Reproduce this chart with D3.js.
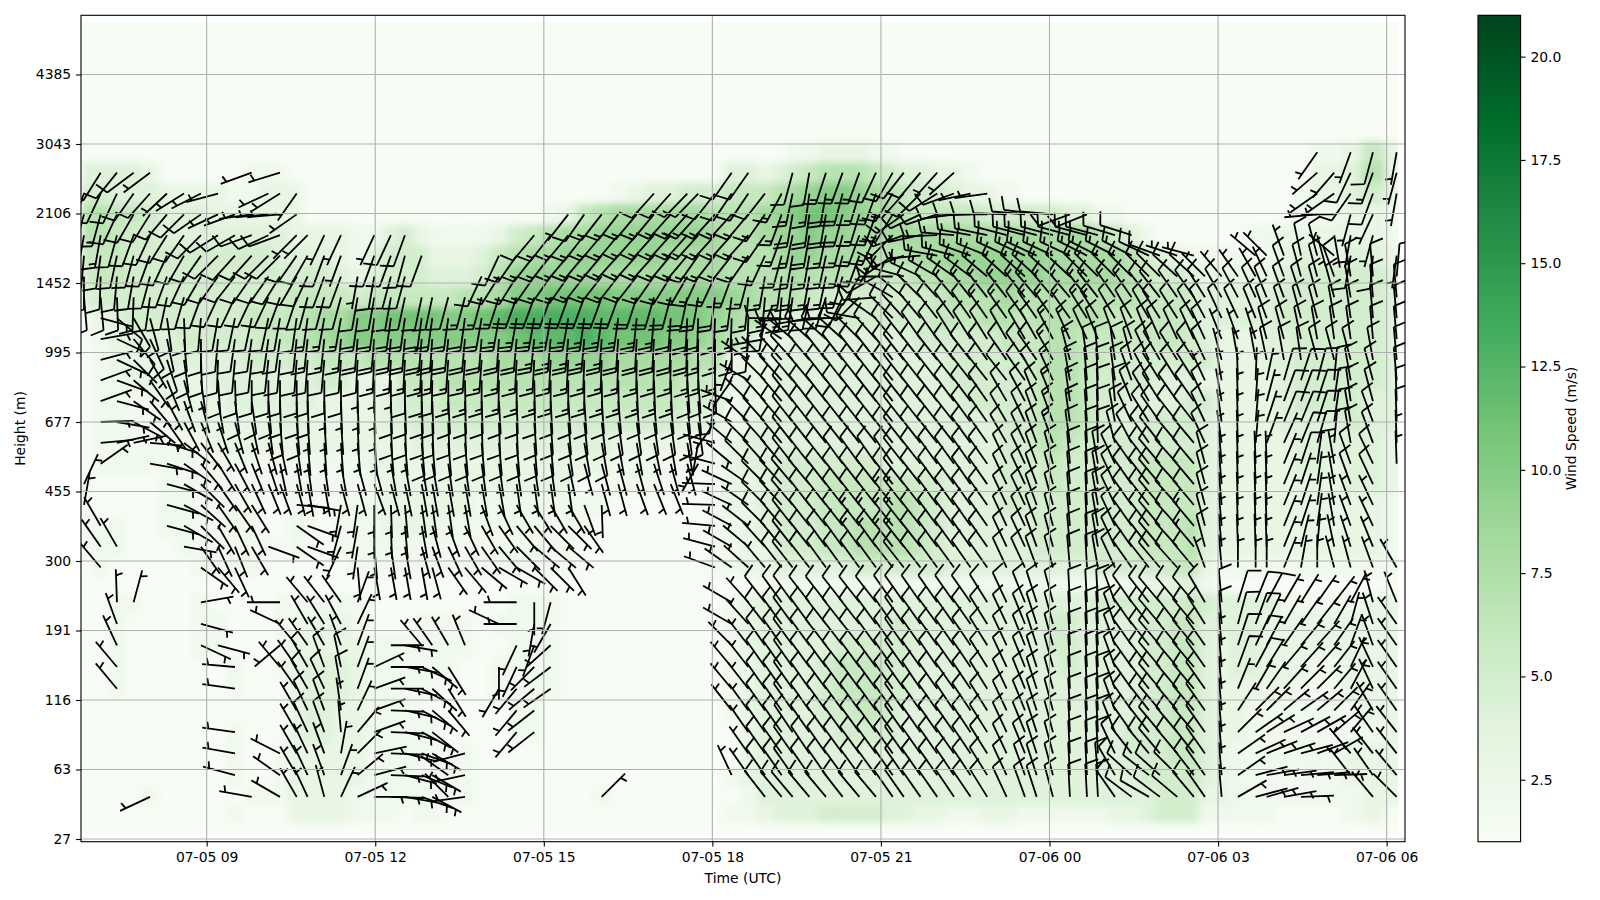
<!DOCTYPE html>
<html>
<head>
<meta charset="utf-8">
<script src="https://cdn.jsdelivr.net/npm/d3@7"></script>
<style>
body { margin: 0; background: #fff; }
text { font-family: "DejaVu Sans", sans-serif; }
</style>
</head>
<body>
<div class="canvas"></div>
<script>
// scan times, minutes after 07-05 00:00 UTC
const scanMinutes = [409,426.8,444.2,462,479.5,497.6,515.8,533.9,552.1, 570.2,588.1,605.9,618.3,636.1,647.8,665.6,683.4,701.2,719,736.7,751.7, 769.6,780.9,798,815.8,833.6,852.1,871,889.8,907.3, 926.1,943.2,961.8,979.5,999.2,1017.6,1035.5,1053.2,1064.9, 1082.8,1100.6,1118.4,1136.2,1154,1165.7,1183.6,1201.3,1219.1,1237,1254.7, 1272.6,1284.4,1302.2,1320.1,1338,1355.7,1373.5,1394.2,1413.8,1426.3, 1443.7,1461.8,1480,1491.7,1509.9,1527.7,1546.2,1557.9,1576.4,1594.2, 1606,1623.8,1641.2,1660.1,1671.9,1690.3,1708.5,1725.9,1744,1761.6,1785.4,1810.7]

const timeTicks = [540,720,900,1080,1260,1440,1620,1800]
const timeLabels = ["07-05 09","07-05 12","07-05 15","07-05 18","07-05 21","07-06 00","07-06 03","07-06 06"]
const heightLabels = [27,63,116,191,300,455,677,995,1452,2106,3043,4385]
const colorTicks = [2.5,5,7.5,10,12.5,15,17.5,20]
const greens = ["#f7fcf5","#e5f5e0","#c7e9c0","#a1d99b","#74c476","#41ab5d","#238b45","#006d2c","#00441b"]

// range gate of each row, top to bottom
const rowGates = [158.1,153.4,148.6,143.8,139,134.3,129.5,124.7,119.9,115.1,110.3,105.6,100.8,96,91.2,86.4,81.7,76.9,72.1,67.3,62.5,58.6,54.5,49.5,44.6,39.6,34.6,29.6,24.6,19.7,14.7,9.7,5.5]

// wind direction (deg, where it blows from), 0 = no barb
const d158 = [0,0,0,0,0,0,0,0,0, 0,0,0,0,0,0,0,0,0,0,0,0, 0,0,0,0,0,0,0,0,0, 0,0,0,0,0,0,0,0,0, 0,0,0,0,0,0,0,0,0,0,0, 0,0,0,0,0,0,0,0,0,0, 0,0,0,0,0,0,0,0,0,0, 0,0,0,0,0,0,0,215,0,200,195,190]
const d153 = [0,212,219,233,233,0,0,0,0, 0,250,0,253,0,0,0,0,0,0,0,0, 0,0,0,0,0,0,0,0,0, 0,0,0,0,0,0,0,0,0, 0,215,215,0,0,195,190,198,200,200,205, 210,218,220,222,228,0,0,0,0,0, 0,0,0,0,0,0,0,0,0,0, 0,0,0,0,0,0,0,229,221,205,200,195]
const d149 = [200,205,205,215,222,227,238,243,255, 0,0,245,238,215,0,0,0,0,0,0,0, 0,0,0,0,0,0,0,0,0, 0,0,0,0,0,222,222,224,224, 218,214,214,218,208,192,188,190,195,197,200, 212,222,225,238,250,258,262,0,0,0, 0,0,0,0,0,0,0,0,0,0, 0,0,0,0,0,0,0,235,235,215,200,190]
const d144 = [195,195,205,210,212,220,225,235,245, 250,262,265,265,235,0,0,0,0,0,0,0, 0,0,0,0,0,0,0,0,0, 218,215,218,218,220,220,222,222,222, 222,222,220,215,200,190,188,190,195,197,200, 212,235,245,252,262,268,270,272,275,278, 275,250,248,0,0,0,0,0,0,0, 0,0,0,0,0,0,0,265,270,195,205,0]
const d139 = [190,190,195,200,205,212,215,225,238, 240,250,245,250,225,225,205,205,0,205,205,200, 0,0,0,0,0,0,0,220,218, 220,218,220,220,222,222,222,222,222, 222,222,222,215,200,192,190,192,195,200,205, 225,250,258,268,275,280,282,285,285,285, 285,285,285,285,287,288,0,0,0,0, 0,0,0,0,0,0,0,165,170,190,195,0]
const d134 = [185,188,192,195,200,205,210,215,225, 222,222,225,225,215,210,200,200,0,200,200,195, 200,0,0,0,0,205,215,218,218, 220,220,220,222,222,222,220,220,215, 218,218,215,205,195,190,190,192,195,200,210, 235,250,265,280,285,290,292,295,295,295, 295,295,297,297,297,297,295,290,288,285, 0,0,0,310,315,340,348,345,310,190,185,188]
const d130 = [180,182,185,190,195,200,205,210,215, 218,215,215,212,210,205,200,200,190,190,195,195, 0,0,0,0,205,212,212,215,215, 215,218,218,218,218,215,212,210,205, 205,200,195,190,188,188,190,192,197,210,240, 270,285,295,300,305,307,310,312,312,312, 312,313,315,315,315,315,315,315,312,312, 315,320,325,330,335,340,345,345,340,350,355,5]
const d125 = [175,175,178,182,188,192,196,200,205, 205,205,205,200,198,195,195,195,190,190,190,192, 192,192,195,195,195,198,200,200,200, 200,200,200,200,198,196,195,192,190, 188,188,186,185,185,188,192,198,205,225,265, 300,310,315,318,320,322,322,322,322,320, 320,320,322,322,325,325,322,322,325,325, 328,330,332,335,338,340,342,345,345,350,355,355]
const d120 = [0,105,130,150,165,172,178,185,190, 192,192,192,190,188,188,190,190,188,188,188,188, 188,188,188,188,190,190,190,190,190, 190,188,188,188,186,185,184,183,182, 182,182,182,190,270,265,260,265,270,280,305, 315,318,320,322,324,325,325,325,325,325, 325,325,328,328,330,330,330,328,328,330, 332,335,335,338,340,342,345,345,350,352,355,355]
const d115 = [0,80,115,140,155,168,175,180,185, 188,188,188,188,186,186,186,185,185,185,185,185, 185,184,186,185,185,184,185,186,185, 185,185,184,184,183,183,182,182,181, 180,180,185,260,305,310,312,312,312,315,318, 320,322,325,325,328,328,328,330,330,330, 332,335,335,338,340,340,338,336,335,335, 335,338,340,342,345,345,348,350,352,352,355,355]
const d110 = [0,75,115,135,150,162,172,178,182, 185,186,186,185,184,184,185,184,183,183,183,183, 183,183,184,184,184,183,183,183,183, 183,182,182,182,181,181,181,180,180, 180,200,305,315,318,318,320,322,322,322,322, 322,322,322,322,322,322,325,325,325,325, 330,345,352,355,352,345,335,330,328,328, 335,345,350,350,348,350,352,345,345,345,350,355]
const d106 = [0,70,110,130,145,158,165,172,176, 178,180,180,180,180,180,180,180,180,180,180,180, 180,181,180,179,180,181,180,179,180, 180,180,179,179,178,178,178,176,176, 178,215,300,315,318,320,320,322,322,322,322, 322,322,322,322,322,322,322,322,325,330, 335,350,355,357,352,340,332,328,328,328, 335,350,358,2,12,16,18,15,5,350,345,355]
const d101 = [0,70,105,125,140,152,160,165,170, 172,172,175,178,178,178,178,178,178,178,178,178, 178,178,177,178,178,177,178,178,177, 176,176,176,175,175,175,175,175,175, 190,290,315,318,320,322,322,322,322,322,322, 322,322,322,322,323,323,325,330,332,338, 338,352,356,358,355,338,330,328,325,325, 335,350,358,4,15,20,20,18,8,352,345,358]
const d96 = [0,88,100,118,130,145,152,158,162, 165,168,172,175,175,176,176,176,178,178,178,178, 178,178,178,178,178,178,178,176,176, 175,174,173,172,172,172,172,172,172, 215,300,315,318,320,322,322,322,322,322,322, 322,322,322,322,322,324,325,330,335,340, 340,352,356,358,350,335,328,325,322,322, 335,352,358,5,18,22,22,18,8,350,340,358]
const d91 = [0,85,78,78,95,108,128,142,150, 158,162,165,168,172,175,176,176,175,175,175,175, 175,175,175,175,175,175,175,175,175, 172,170,170,170,170,168,170,170,190, 285,310,315,318,320,322,322,322,322,322,322, 322,322,322,322,322,324,325,330,335,340, 340,352,357,358,345,332,325,322,320,320, 335,352,358,5,20,24,22,16,5,350,340,358]
const d86 = [0,55,0,0,100,108,125,140,148, 152,158,162,168,170,172,172,170,165,165,170,170, 170,170,172,172,172,172,172,172,172, 168,165,165,165,165,162,165,165,210, 285,310,315,318,320,322,322,322,324,324,325, 325,322,322,324,324,325,325,335,335,340, 345,355,357,350,335,325,322,320,318,320, 345,355,358,358,358,22,18,8,350,340,335,358]
const d82 = [25,0,0,0,0,105,120,135,145, 150,155,158,160,165,170,170,165,165,160,165,168, 170,170,170,170,170,170,172,172,172, 172,0,165,165,160,158,158,0,0, 272,295,305,315,318,320,320,322,322,322,322, 322,322,322,324,324,325,325,335,335,340, 345,355,357,350,335,325,322,320,318,320, 345,355,358,358,358,22,18,8,350,340,335,0]
const d77 = [10,0,0,0,0,105,118,132,145, 145,148,0,0,95,100,0,190,188,180,178,175, 172,172,172,170,160,155,150,148,150, 150,160,178,0,0,0,0,0,0, 272,295,305,315,318,320,322,322,322,322,322, 322,322,322,324,324,325,325,335,335,340, 345,355,357,350,335,325,322,320,318,320, 345,355,358,358,358,22,18,8,350,340,335,0]
const d72 = [0,330,0,0,0,105,120,135,150, 155,155,0,0,125,110,0,195,190,180,178,175, 170,165,160,155,150,145,140,140,135, 135,145,0,0,0,0,0,0,0, 275,298,308,315,320,322,322,322,322,322,322, 322,322,322,324,324,325,325,335,335,340, 345,355,357,350,335,325,322,320,318,320, 345,355,358,358,358,22,18,8,350,340,335,0]
const d67 = [0,325,330,0,0,0,100,145,155, 158,150,110,0,125,110,0,205,188,175,172,170, 165,160,155,150,145,140,135,130,130, 130,0,0,0,0,0,0,0,0, 285,300,310,318,320,322,322,324,324,324,324, 322,322,322,324,324,325,325,335,335,340, 345,355,357,350,335,325,322,320,318,320, 345,355,358,358,358,22,14,5,348,342,338,0]
const d63 = [0,320,0,0,0,0,0,125,140, 155,0,0,0,0,0,0,0,175,170,170,170, 170,165,145,140,130,120,120,135,135, 148,0,0,0,0,0,0,0,0, 290,305,312,320,322,322,322,324,324,324,324, 322,322,322,324,324,325,325,335,335,340, 345,355,357,350,335,325,322,320,318,320, 340,355,360,360,360,22,10,360,345,345,340,330]
const d55 = [0,0,358,15,0,0,0,80,0, 0,0,0,270,0,320,322,325,20,0,0,0, 0,0,0,0,0,0,270,180,195, 0,0,0,0,0,0,0,0,0, 0,300,318,322,324,324,322,322,322,322,322, 325,325,325,325,325,325,328,335,338,342, 345,357,357,357,340,325,322,320,320,320, 330,355,17,22,28,30,32,35,38,28,345,338]
const d50 = [0,0,340,0,0,0,0,105,0, 0,0,0,295,0,330,328,332,25,0,0,0, 0,0,0,0,0,295,270,190,210, 0,0,0,0,0,0,0,0,0, 0,300,318,322,324,324,324,322,322,322,324, 325,325,325,324,325,325,328,335,338,342, 345,357,357,357,340,325,322,320,322,320, 328,355,15,20,25,30,35,38,30,15,342,325]
const d45 = [0,0,335,0,0,0,0,115,105, 0,0,0,230,320,325,330,340,20,0,90,100, 320,325,330,338,0,0,205,200,228, 0,0,0,0,0,0,0,0,0, 0,315,322,325,325,324,324,322,322,322,324, 325,325,325,325,325,326,328,335,338,342, 345,357,357,357,340,325,322,320,320,320, 325,355,18,25,28,35,40,42,35,20,340,325]
const d40 = [0,0,320,0,0,0,0,0,0, 275,0,0,320,325,330,340,348,20,65,90,100, 115,130,148,0,0,180,205,225,233, 0,0,0,0,0,0,0,0,0, 0,320,322,325,325,325,324,324,322,324,324, 325,325,325,326,325,326,328,335,338,342, 345,357,357,357,340,325,322,320,320,320, 325,355,20,28,32,40,42,42,38,25,335,325]
const d35 = [0,0,320,0,0,0,0,0,0, 278,0,0,0,325,330,335,350,20,70,90,102, 118,132,148,0,0,210,220,230,235, 0,0,0,0,0,0,0,0,0, 0,320,322,325,325,325,325,324,324,324,324, 325,325,326,325,325,326,328,335,338,342, 345,357,357,357,340,325,322,320,320,320, 325,355,22,30,35,42,45,45,40,28,335,325]
const d30 = [0,0,0,0,0,0,0,0,0, 0,0,0,0,330,335,340,352,25,70,92,103, 118,130,140,0,0,0,220,232,0, 0,0,0,0,0,0,0,0,0, 0,322,324,325,325,325,325,324,324,324,324, 325,325,325,325,326,326,328,335,338,342, 345,357,357,357,340,325,322,320,320,320, 325,355,33,45,45,50,55,50,45,35,330,325]
const d25 = [0,0,0,0,0,0,0,0,0, 278,0,0,0,330,335,340,355,40,70,92,104, 118,128,0,0,0,0,220,232,0, 0,0,0,0,0,0,0,0,0, 0,0,325,325,325,326,325,324,324,324,324, 325,325,325,325,325,326,328,335,338,342, 345,357,357,357,338,325,322,320,320,320, 325,355,45,55,58,65,62,60,50,40,325,322]
const d20 = [0,0,0,0,0,0,0,0,0, 280,0,0,297,330,335,340,10,45,78,92,104, 110,120,0,255,0,0,0,0,0, 0,0,0,0,0,0,0,0,0, 0,0,325,325,325,325,326,325,324,324,324, 325,325,325,325,325,326,328,335,338,342, 345,357,357,357,335,322,320,320,320,322, 325,355,55,65,68,72,75,70,60,320,322,322]
const d15 = [0,0,0,0,0,0,0,0,0, 285,0,0,305,330,335,340,20,50,75,92,105, 112,120,305,258,0,0,0,0,0, 0,0,0,0,0,0,0,0,0, 0,335,325,325,325,325,325,325,324,324,324, 325,325,325,325,326,326,328,335,340,342, 345,357,357,355,330,312,308,312,315,322, 325,355,55,75,80,82,85,85,88,322,325,320]
const d10 = [0,0,0,0,245,0,0,0,0, 0,280,0,300,330,335,345,25,65,90,92,100, 110,118,315,262,0,0,0,0,0, 0,0,45,0,0,0,0,0,0, 0,0,0,322,320,320,320,320,322,320,320, 325,325,325,325,326,326,328,335,340,342, 345,357,357,357,325,307,300,307,310,320, 325,355,60,75,74,80,88,0,0,0,320,315]

// wind speed (m/s) on the same grid
const s158 = [1,1,1,1,1,1,1,1,1, 1,1,1,1,1,1,1,1,1,1,1,1, 1,1,1,1,1,1,1,1,1, 1,1,1,1,1,1,1,1,1, 1,1,1,1,1,2,2,3,3,3,2, 2,1,1,1,1,1,1,1,1,1, 1,1,1,1,1,1,1,1,1,1, 1,1,1,1,1,1,1,2,2,3,6,3]
const s153 = [4,4,4,4,3,1,1,1,1, 1,2,2,2,1,1,1,1,1,1,1,1, 1,1,1,1,1,1,1,1,1, 1,1,1,1,1,1,1,1,1, 1,4,4,3,4,5,6,7,7,7,6, 5,4,4,3,3,2,1,1,1,1, 1,1,1,1,1,1,1,1,1,1, 1,1,1,1,1,1,1,3,3,4,7,3]
const s149 = [5,5,4,4,4,3,3,3,3, 2,2,3,3,3,1,1,1,1,1,1,1, 1,1,1,1,1,1,1,1,1, 1,1,1,2,3,4,4,5,5, 5,6,6,6,7,8,9,10,10,9,8, 7,6,5,5,4,3,3,2,1,1, 1,1,1,1,1,1,1,1,1,1, 1,1,1,1,1,1,2,3,3,4,5,3]
const s144 = [7,7,6,6,5,4,4,4,3, 3,3,3,3,3,1,1,1,1,1,1,1, 1,1,1,1,1,1,1,1,2, 3,6,7,8,8,8,8,8,8, 7,7,7,8,9,10,11,11,10,9,8, 8,7,6,6,6,6,5,5,5,5, 5,4,4,2,2,1,1,1,1,1, 1,1,1,1,1,1,2,2,2,3,3,2]
const s139 = [7,7,6,5,5,4,4,4,4, 4,4,4,4,3,3,3,3,2,2,4,5, 3,2,2,2,2,3,5,6,7, 8,8,9,9,9,9,9,9,9, 8,7,7,8,9,9,10,9,9,8,8, 8,8,8,8,8,8,8,8,8,8, 8,8,8,7,6,4,2,1,1,1, 1,1,1,2,2,3,3,3,3,3,3,2]
const s134 = [6,6,6,5,5,5,5,5,5, 5,5,5,4,4,4,4,3,2,4,5,5, 5,3,3,3,4,6,7,8,8, 9,9,9,9,9,9,8,8,8, 8,7,7,7,8,9,9,8,8,8,7, 7,7,8,8,9,9,9,9,9,9, 8,8,8,8,8,7,5,4,3,2, 2,2,2,2,2,3,4,4,3,4,4,3]
const s130 = [5,6,6,5,5,5,5,5,5, 5,5,5,5,5,5,5,4,3,4,5,5, 5,4,4,4,5,7,9,9,9, 9,9,8,8,8,8,8,8,8, 8,7,7,7,7,8,7,7,7,6,6, 6,6,7,7,8,8,9,9,9,9, 8,8,8,8,8,7,6,5,5,4, 3,3,3,3,3,4,5,5,5,5,5,4]
const s125 = [4,5,5,5,5,5,5,5,5, 5,5,5,5,6,6,6,6,5,6,6,6, 6,6,6,7,7,8,10,10,11, 11,11,11,10,10,10,10,10,10, 10,9,8,7,7,7,6,5,5,5,5, 5,5,5,6,7,7,7,8,7,7, 7,7,7,7,7,7,6,6,6,5, 4,4,4,4,4,5,5,5,5,5,5,4]
const s120 = [2,3,4,5,5,5,5,5,5, 5,6,6,6,6,7,8,8,10,10,11,11, 11,11,10,10,11,12,13,13,13, 13,13,12,12,12,12,11,11,10, 9,8,7,6,4,4,4,4,5,5,5, 5,5,5,6,6,6,7,7,6,7, 7,7,7,7,6,6,6,6,6,5, 4,4,4,4,4,5,5,5,5,5,5,4]
const s115 = [1,2,3,4,4,4,5,5,5, 5,5,6,6,6,7,8,9,10,10,10,10, 10,10,10,10,10,10,11,12,12, 12,13,12,11,11,11,10,10,9, 8,7,5,3,3,4,4,4,4,4,4, 4,4,5,5,5,5,5,6,6,6, 7,7,6,6,6,6,6,6,6,5, 4,3,3,3,4,4,5,5,5,5,5,4]
const s110 = [1,2,3,3,3,4,4,4,4, 4,5,5,5,5,5,6,6,6,7,7,7, 7,7,7,7,7,8,8,8,9, 9,9,9,8,8,8,8,8,7, 7,3,3,3,4,4,4,4,4,4,4, 4,4,4,4,5,5,5,5,5,6, 7,7,6,6,5,5,5,5,5,5, 5,3,3,3,4,4,5,5,5,5,5,4]
const s106 = [1,2,2,3,3,3,3,3,4, 4,4,4,4,4,4,5,5,3,3,3,6, 6,6,7,7,7,7,7,7,7, 7,7,7,7,7,7,7,6,6, 5,3,3,3,4,4,4,4,4,4,4, 4,4,4,4,5,5,5,5,5,6, 7,7,6,5,5,5,5,4,4,4, 3,3,3,3,3,4,5,5,5,5,5,4]
const s101 = [1,2,2,2,2,3,3,3,3, 4,4,4,4,4,4,3,3,3,3,4,5, 5,5,6,6,6,6,6,6,6, 6,6,6,6,6,6,6,5,5, 4,2,3,3,4,4,4,4,4,4,4, 4,4,4,4,4,5,5,5,5,6, 7,7,6,5,5,4,4,4,4,5, 5,3,3,3,3,4,5,5,5,5,4,4]
const s96 = [1,2,2,2,2,2,3,3,3, 3,3,3,4,4,3,3,3,3,3,4,4, 5,5,5,5,5,5,5,5,5, 5,5,5,5,5,5,5,4,4, 3,2,3,4,4,4,4,4,4,4,4, 4,4,4,4,4,4,4,5,5,6, 7,7,6,5,4,4,5,5,5,5, 4,3,3,3,3,4,4,4,4,5,4,4]
const s91 = [1,2,2,2,2,2,2,2,3, 3,3,3,3,3,3,3,3,3,3,3,3, 4,4,4,4,4,4,4,4,4, 4,4,4,3,3,3,3,3,2, 2,3,4,4,4,4,4,4,4,4,4, 4,4,4,4,4,4,4,5,5,6, 7,6,5,5,5,5,5,5,5,5, 4,3,3,3,3,3,4,4,4,4,4,3]
const s86 = [1,2,2,2,2,2,2,2,2, 2,2,2,2,2,2,2,2,2,3,3,3, 3,3,3,3,3,3,3,3,3, 3,3,3,2,2,2,2,2,2, 2,3,4,4,5,5,5,5,5,5,5, 4,4,4,4,4,4,4,5,5,5, 6,5,5,5,5,5,6,6,6,6, 4,3,3,3,3,3,4,4,3,4,4,3]
const s82 = [2,1,1,1,1,2,2,2,2, 2,2,2,2,2,2,2,2,2,2,3,3, 3,3,3,3,3,3,3,3,3, 3,1,2,2,2,2,2,1,1, 2,3,3,4,5,5,5,6,6,6,6, 6,6,5,5,4,4,4,5,5,5, 6,5,5,5,5,5,6,6,6,6, 4,3,3,3,3,3,3,3,3,4,4,3]
const s77 = [2,1,1,1,1,2,2,2,2, 2,2,1,1,2,2,1,2,2,2,3,3, 3,3,3,3,2,2,2,2,2, 2,2,2,1,1,1,1,1,1, 2,3,3,4,5,5,5,6,6,6,6, 7,7,6,5,4,4,4,5,5,5, 5,5,5,5,5,5,6,6,6,6, 4,3,3,3,3,3,3,3,3,3,3,2]
const s72 = [2,2,2,1,1,2,2,2,2, 2,2,1,1,2,2,1,2,2,2,3,3, 3,3,2,2,2,2,2,2,2, 2,2,1,1,1,1,1,1,1, 2,2,3,4,5,5,5,6,6,7,7, 7,7,6,5,4,4,4,4,4,5, 5,5,5,5,5,5,6,6,6,7, 4,3,3,3,3,3,3,3,3,3,3,2]
const s67 = [2,2,2,1,1,1,2,2,2, 2,2,2,1,2,2,1,2,2,2,2,2, 2,2,2,2,2,2,2,2,2, 2,1,1,1,1,1,1,1,1, 2,2,3,3,5,5,5,6,6,7,7, 7,7,6,5,4,4,4,4,4,5, 5,5,5,5,5,5,6,6,6,7, 4,3,3,3,3,3,3,3,3,3,3,2]
const s63 = [1,2,1,1,1,1,1,2,2, 2,2,1,1,1,1,1,1,2,2,2,2, 2,2,2,2,2,2,2,2,2, 2,1,1,1,1,1,1,1,1, 2,2,3,3,4,4,4,4,4,5,5, 5,5,5,5,4,4,4,4,4,4, 4,4,4,5,5,5,5,5,6,6, 3,2,2,2,2,2,2,2,2,2,2,2]
const sGap = [1,1,1,1,1,1,1,1,1, 1,1,1,1,1,1,1,1,1,1,1,1, 1,1,1,1,1,1,1,1,1, 1,1,1,1,1,1,1,1,1, 1,1,1,2,2,2,2,2,2,2,2, 2,2,2,2,2,2,2,2,2,2, 2,2,2,2,2,2,3,3,4,4, 2,1,1,1,1,1,1,1,1,1,1,1]
const s55 = [1,1,2,2,1,1,1,2,1, 1,1,1,2,2,2,2,2,2,1,1,1, 1,1,1,1,1,1,2,2,2, 1,1,1,1,1,1,1,1,1, 1,2,3,4,4,4,4,4,4,4,4, 4,4,4,4,4,4,4,4,4,4, 4,4,4,5,5,5,5,5,5,6, 5,4,4,4,4,2,2,2,2,2,3,3]
const s50 = [1,1,2,1,1,1,1,2,2, 1,1,1,2,2,3,3,3,2,1,1,1, 2,2,2,2,1,2,2,2,2, 1,1,1,1,1,1,1,1,1, 1,2,3,4,4,4,4,4,4,4,4, 5,5,4,4,4,4,4,4,4,4, 5,5,4,4,4,4,5,5,6,6, 4,4,4,4,3,3,3,3,3,3,3,3]
const s45 = [1,1,2,1,1,1,1,2,2, 1,1,1,2,3,3,3,3,3,2,2,2, 2,2,2,2,1,1,2,2,2, 1,1,1,1,1,1,1,1,1, 1,2,3,4,4,4,4,4,5,5,5, 5,5,4,4,4,4,4,4,4,4, 5,5,4,4,4,4,5,5,6,6, 4,3,4,4,3,3,3,3,3,3,3,3]
const s40 = [1,1,2,1,1,1,1,1,1, 2,1,1,2,3,4,4,4,3,2,2,2, 2,2,2,1,1,2,2,2,2, 1,1,1,1,1,1,1,1,1, 1,2,3,4,4,4,4,5,6,6,6, 5,5,4,4,4,4,4,4,4,4, 4,5,4,4,4,4,5,5,6,6, 4,3,4,4,3,3,3,2,2,3,3,3]
const s35 = [1,1,2,1,1,1,1,1,1, 2,1,1,1,3,4,4,4,3,2,2,2, 2,2,1,1,1,2,2,2,2, 1,1,1,1,1,1,1,1,1, 1,2,3,4,4,4,4,5,6,6,6, 5,5,4,4,4,4,4,4,4,4, 4,4,4,4,4,4,5,5,6,6, 4,3,3,3,3,3,2,2,2,3,3,3]
const s30 = [1,1,1,1,1,1,1,1,1, 1,1,1,1,3,4,4,3,3,2,2,2, 2,1,1,1,1,1,2,2,1, 1,1,1,1,1,1,1,1,1, 1,2,3,4,4,4,4,5,5,6,6, 5,4,4,4,4,4,4,4,4,4, 4,4,4,4,4,4,5,5,6,6, 4,3,3,2,2,2,2,2,2,2,3,3]
const s25 = [1,1,1,1,1,1,1,1,1, 2,1,1,1,3,4,4,3,3,2,2,2, 2,2,1,1,1,1,2,2,1, 1,1,1,1,1,1,1,1,1, 1,1,3,4,4,4,4,4,5,5,5, 5,4,4,4,4,4,4,4,4,4, 4,4,4,4,4,5,5,5,6,6, 4,3,3,2,2,2,2,2,2,2,2,3]
const s20 = [1,1,1,1,1,1,1,1,1, 2,1,1,2,3,3,3,3,3,2,2,2, 2,2,2,2,1,1,1,1,1, 1,1,1,1,1,1,1,1,1, 1,1,3,4,4,4,4,4,4,4,4, 4,4,4,4,4,4,4,4,4,4, 4,4,4,4,4,5,5,5,6,6, 4,3,2,2,2,2,2,2,2,3,3,3]
const s15 = [1,1,1,1,1,1,1,1,1, 2,1,1,2,3,3,3,3,3,2,2,2, 2,2,2,2,1,1,1,1,1, 1,1,1,1,1,1,1,1,1, 1,2,3,4,4,4,4,4,4,4,4, 4,4,4,4,4,4,4,4,4,4, 4,4,4,4,4,4,5,5,5,6, 4,3,2,2,2,2,2,2,2,3,3,3]
const s10 = [1,1,1,1,2,1,1,1,1, 1,2,2,2,3,3,3,3,2,2,2,2, 2,2,2,2,1,1,1,1,1, 1,1,2,1,1,1,1,1,1, 1,1,2,4,4,4,4,4,4,4,4, 4,4,4,4,4,4,4,4,4,4, 4,4,4,4,4,4,4,5,5,5, 3,3,2,2,2,2,2,2,2,2,3,3]
const sBot = [1,1,1,1,1,1,1,1,1, 2,1,1,1,3,3,3,3,2,2,2,1, 2,2,1,1,1,1,1,1,1, 1,1,1,1,1,1,1,1,1, 1,2,2,3,4,4,4,5,5,5,5, 4,4,3,3,2,2,3,3,2,2, 2,2,2,2,3,3,4,5,5,5, 2,2,2,2,2,1,1,1,1,2,3,1]

const dirRows = [d158,d153,d149,d144,d139,d134,d130,d125,d120,d115,d110,d106,d101,d96,d91,d86,d82,d77,d72,d67,d63,null,d55,d50,d45,d40,d35,d30,d25,d20,d15,d10,null]
const speedRows = [s158,s153,s149,s144,s139,s134,s130,s125,s120,s115,s110,s106,s101,s96,s91,s86,s82,s77,s72,s67,s63,sGap,s55,s50,s45,s40,s35,s30,s25,s20,s15,s10,sBot]

const width = 1600
const height = 900
const plot = { left: 81, right: 1405, top: 15.3, bottom: 841.7 }
const heatBox = { left: 82, right: 1398.5, top: 21.7, bottom: 835 }
const bar = { left: 1478, right: 1520.6 }
const fontSize = 13.9

const svg = d3.select(".canvas")
    .append("svg")
    .attr("width", width)
    .attr("height", height)

const scaleX = d3.scaleLinear().domain([405.8, 1819.6]).range([plot.left, plot.right])
const scaleY = d3.scaleLinear().domain([0, 176]).range([839, 74.5])
const gateTicks = heightLabels.map((d, i) => i * 16)
const color = d3.scaleLinear()
    .domain(greens.map((d, i) => 1 + i * 2.5))
    .range(greens)
    .clamp(true)

// cell edges half way between neighbouring columns and rows
const colX = scanMinutes.map(d => scaleX(d))
const colEdges = colX.map((x, i) => i == colX.length - 1 ? heatBox.right : (x + colX[i + 1]) / 2)
const rowY = rowGates.map(d => scaleY(d))
const rowEdges = rowY.map((y, i) => i == rowY.length - 1 ? 822 : (y + rowY[i + 1]) / 2)

const cells = []
speedRows.forEach((row, r) => {
    row.forEach((speed, c) => {
        cells.push({
            x0: c == 0 ? heatBox.left : colEdges[c - 1],
            x1: colEdges[c],
            y0: r == 0 ? rowY[0] - 11 : rowEdges[r - 1],
            y1: rowEdges[r],
            speed: speed
        })
    })
})

const defs = svg.append("defs")
defs.append("filter")
    .attr("id", "soft")
    .attr("filterUnits", "userSpaceOnUse")
    .attr("x", 0).attr("y", 0).attr("width", width).attr("height", height)
    .append("feGaussianBlur")
    .attr("stdDeviation", "4 3.5")
defs.append("clipPath")
    .attr("id", "heatClip")
    .append("rect")
    .attr("x", heatBox.left).attr("y", heatBox.top)
    .attr("width", heatBox.right - heatBox.left)
    .attr("height", heatBox.bottom - heatBox.top)
defs.append("clipPath")
    .attr("id", "plotClip")
    .append("rect")
    .attr("x", plot.left).attr("y", plot.top)
    .attr("width", plot.right - plot.left)
    .attr("height", plot.bottom - plot.top)

const heat = svg.append("g").attr("clip-path", "url(#heatClip)")
heat.append("rect")
    .attr("x", heatBox.left).attr("y", heatBox.top)
    .attr("width", heatBox.right - heatBox.left)
    .attr("height", heatBox.bottom - heatBox.top)
    .attr("fill", color(1))
heat.append("g")
    .attr("filter", "url(#soft)")
    .selectAll("rect")
    .data(cells.filter(d => d.speed > 1))
    .enter()
    .append("rect")
    .attr("x", d => d.x0)
    .attr("y", d => d.y0)
    .attr("width", d => d.x1 - d.x0 + 0.5)
    .attr("height", d => d.y1 - d.y0 + 0.5)
    .attr("fill", d => color(d.speed))

// barbs follow the usual layout: shaft towards the wind, feathers clockwise of it
const barbLength = 33
const barbHeight = 0.4 * barbLength
const barbWidth = 0.25 * barbLength
const barbSpacing = 0.125 * barbLength

function barbPath(x, y, dir, speed) {
    const a = dir * Math.PI / 180
    const sx = Math.sin(a), sy = -Math.cos(a)
    const px = Math.cos(a), py = Math.sin(a)
    const knots = Math.max(5, Math.round(speed * 1.944 / 5) * 5)
    const full = Math.floor(knots / 10)
    const half = knots % 10 == 5
    const p = d3.path()
    p.moveTo(x, y)
    p.lineTo(x + sx * barbLength, y + sy * barbLength)
    let offset = barbLength
    for (let i = 0; i < full; i++) {
        p.moveTo(x + sx * offset, y + sy * offset)
        p.lineTo(x + sx * (offset + barbWidth / 2) + px * barbHeight, y + sy * (offset + barbWidth / 2) + py * barbHeight)
        offset -= barbSpacing
    }
    if (half) {
        if (full == 0) offset -= 1.5 * barbSpacing
        p.moveTo(x + sx * offset, y + sy * offset)
        p.lineTo(x + sx * (offset + barbWidth / 4) + px * barbHeight / 2, y + sy * (offset + barbWidth / 4) + py * barbHeight / 2)
    }
    return p.toString()
}

const barbs = []
dirRows.forEach((row, r) => {
    if (!row) return
    row.forEach((dir, c) => {
        if (dir) barbs.push({ x: colX[c], y: rowY[r], dir: dir, speed: speedRows[r][c] })
    })
})

svg.append("g")
    .attr("clip-path", "url(#plotClip)")
    .selectAll("path")
    .data(barbs)
    .enter()
    .append("path")
    .attr("d", d => barbPath(d.x, d.y, d.dir, d.speed))
    .attr("fill", "none")
    .attr("stroke", "black")
    .attr("stroke-width", 1.8)

// grid
const grid = svg.append("g")
    .attr("stroke", "#b0b0b0")
    .attr("stroke-width", 1.1)
grid.selectAll("line.gx")
    .data(timeTicks)
    .enter()
    .append("line")
    .attr("x1", d => scaleX(d)).attr("x2", d => scaleX(d))
    .attr("y1", plot.top).attr("y2", plot.bottom)
grid.selectAll("line.gy")
    .data(gateTicks)
    .enter()
    .append("line")
    .attr("y1", d => scaleY(d)).attr("y2", d => scaleY(d))
    .attr("x1", plot.left).attr("x2", plot.right)

// axes
const xAxis = d3.axisBottom(scaleX)
    .tickValues(timeTicks)
    .tickFormat((d, i) => timeLabels[i])
    .tickSize(4.9)
    .tickPadding(5.5)
const yAxis = d3.axisLeft(scaleY)
    .tickValues(gateTicks)
    .tickFormat((d, i) => heightLabels[i])
    .tickSize(4.9)
    .tickPadding(4.9)

const xAxisGroup = svg.append("g")
    .attr("transform", `translate(0, ${plot.bottom})`)
    .call(xAxis)
const yAxisGroup = svg.append("g")
    .attr("transform", `translate(${plot.left}, 0)`)
    .call(yAxis)

svg.append("rect")
    .attr("x", plot.left).attr("y", plot.top)
    .attr("width", plot.right - plot.left)
    .attr("height", plot.bottom - plot.top)
    .attr("fill", "none")
    .attr("stroke", "black")
    .attr("stroke-width", 1.1)

// colour bar
const scaleBar = d3.scaleLinear().domain([1, 21]).range([plot.bottom, plot.top])
const barSteps = d3.range(256).map(i => 1 + i * 20 / 256)
svg.append("g")
    .attr("shape-rendering", "crispEdges")
    .selectAll("rect")
    .data(barSteps)
    .enter()
    .append("rect")
    .attr("x", bar.left)
    .attr("width", bar.right - bar.left)
    .attr("y", d => scaleBar(d + 20 / 256))
    .attr("height", d => scaleBar(d) - scaleBar(d + 20 / 256) + 1)
    .attr("fill", d => color(d + 10 / 256))

const barAxis = d3.axisRight(scaleBar)
    .tickValues(colorTicks)
    .tickFormat(d3.format(".1f"))
    .tickSize(4.9)
    .tickPadding(4.9)
const barAxisGroup = svg.append("g")
    .attr("transform", `translate(${bar.right}, 0)`)
    .call(barAxis)

svg.append("rect")
    .attr("x", bar.left).attr("y", plot.top)
    .attr("width", bar.right - bar.left)
    .attr("height", plot.bottom - plot.top)
    .attr("fill", "none")
    .attr("stroke", "black")
    .attr("stroke-width", 1.1)

const allAxes = [xAxisGroup, yAxisGroup, barAxisGroup]
allAxes.forEach(g => {
    g.select(".domain").remove()
    g.selectAll("line").attr("stroke", "black").attr("stroke-width", 1.1)
    g.selectAll("text")
        .attr("fill", "black")
        .style("font-size", fontSize + "px")
        .style("font-family", '"DejaVu Sans", sans-serif')
})

// axis titles
svg.append("text")
    .attr("x", (plot.left + plot.right) / 2)
    .attr("y", 883)
    .attr("text-anchor", "middle")
    .style("font-size", fontSize + "px")
    .text("Time (UTC)")
svg.append("text")
    .attr("transform", `translate(25, ${(plot.top + plot.bottom) / 2}) rotate(-90)`)
    .attr("text-anchor", "middle")
    .style("font-size", fontSize + "px")
    .text("Height (m)")
svg.append("text")
    .attr("transform", `translate(1576, ${(plot.top + plot.bottom) / 2}) rotate(-90)`)
    .attr("text-anchor", "middle")
    .style("font-size", fontSize + "px")
    .text("Wind Speed (m/s)")
</script>
</body>
</html>
